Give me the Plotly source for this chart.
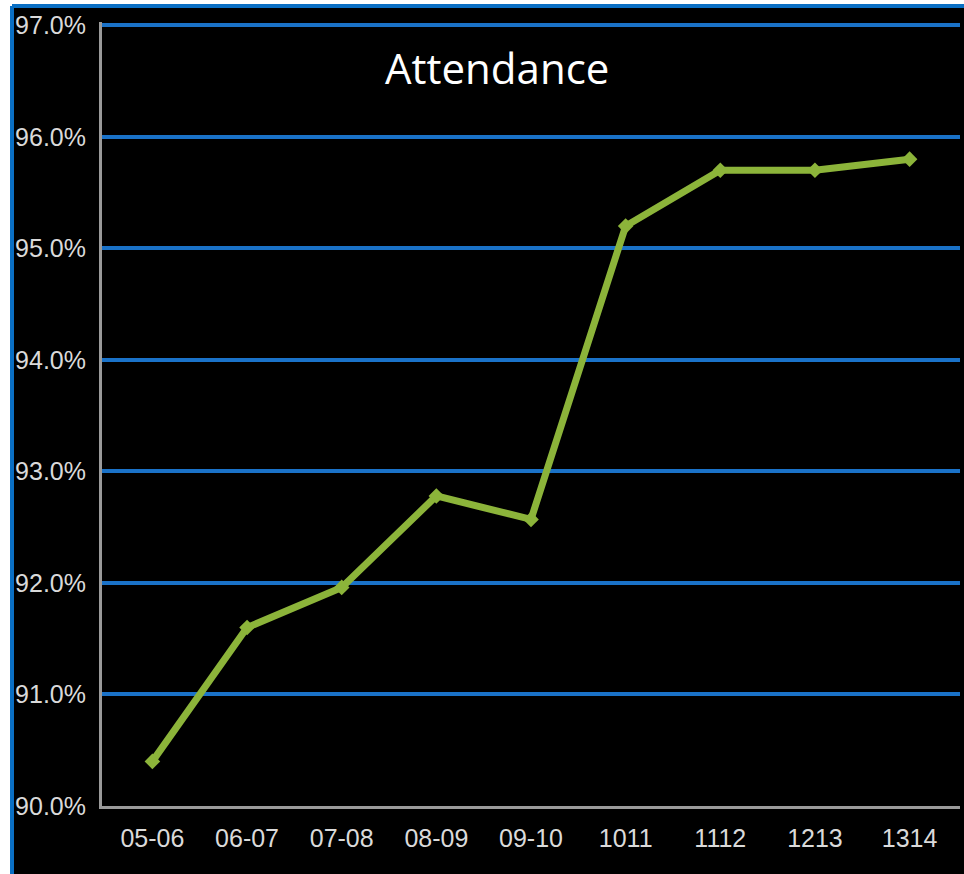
import plotly.graph_objects as go

years = ["05-06", "06-07", "07-08", "08-09", "09-10", "1011", "1112", "1213", "1314"]
attendance = [90.4, 91.6, 91.96, 92.78, 92.57, 95.2, 95.7, 95.7, 95.8]
y_ticks = [90, 91, 92, 93, 94, 95, 96, 97]
y_labels = [f"{v:.1f}%" for v in y_ticks]

W, H = 964, 874
ML, MR, MT, MB = 102, 4, 22, 68
PW, PH = W - ML - MR, H - MT - MB
Y_RANGE = [90, 97.03]

fig = go.Figure()
fig.add_trace(go.Scatter(
    x=years, y=attendance, mode="lines+markers",
    line=dict(color="#8cb43a", width=7),
    marker=dict(symbol="diamond", size=12, color="#8cb43a"),
    hoverinfo="x+y", showlegend=False,
))

tick_font = dict(family="Liberation Sans, Arial, sans-serif", size=25, color="#dadada")

top_px = 6
left_px = 12
fig.update_layout(
    width=W, height=H,
    margin=dict(l=ML, r=MR, t=MT, b=MB),
    paper_bgcolor="white",
    plot_bgcolor="rgba(0,0,0,0)",
    xaxis=dict(
        type="category", showgrid=False, showline=True, linecolor="#9a9a9a", linewidth=3,
        tickfont=tick_font, ticks="", ticklabelstandoff=8, fixedrange=True, automargin=False,
    ),
    yaxis=dict(
        range=Y_RANGE, tickvals=y_ticks, ticktext=y_labels,
        showgrid=True, gridcolor="#1a72c8", gridwidth=4,
        showline=True, linecolor="#9a9a9a", linewidth=3, zeroline=False,
        tickfont=tick_font, ticks="", ticklabelstandoff=8, fixedrange=True, automargin=False,
    ),
    shapes=[
        dict(type="rect", xref="paper", yref="paper", layer="below",
             x0=(left_px - ML) / PW, x1=1.5, y0=-0.5, y1=1 + (MT - top_px) / PH,
             fillcolor="black", line=dict(width=0)),
        dict(type="line", xref="paper", yref="paper", layer="below",
             x0=(left_px - ML) / PW, x1=1.5, y0=1 + (MT - top_px) / PH, y1=1 + (MT - top_px) / PH,
             line=dict(color="#0a6fc4", width=4)),
        dict(type="line", xref="paper", yref="paper", layer="below",
             x0=(left_px - ML) / PW, x1=(left_px - ML) / PW, y0=-0.5, y1=1 + (MT - top_px) / PH,
             line=dict(color="#0a6fc4", width=4)),
    ],
    annotations=[dict(
        text="Attendance", xref="paper", yref="paper",
        x=(497 - ML) / PW, y=1 - (68 - MT) / PH, xanchor="center", yanchor="middle",
        showarrow=False, font=dict(family="Open Sans, sans-serif", size=42, color="white"),
    )],
)

fig.write_html(
    "out.html",
    config={"displayModeBar": False},
    post_script="document.body.style.margin='0';document.body.style.overflow='hidden';",
)
